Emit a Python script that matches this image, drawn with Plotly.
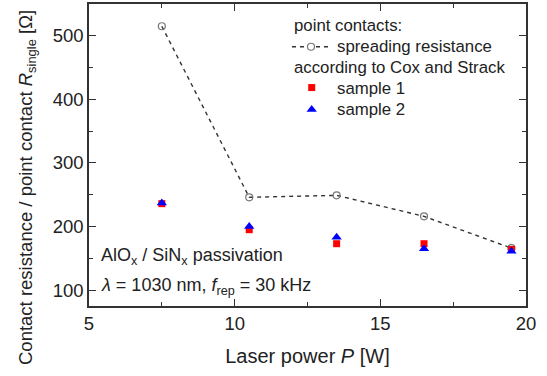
import plotly.graph_objects as go

power = [7.5, 10.5, 13.5, 16.5, 19.5]
spreading = [515, 246, 249, 216, 166]
sample1 = [236, 195, 173, 173, 164]
sample2 = [237, 200, 183, 165, 161]

FONT = "Arial, Liberation Sans, sans-serif"
TXT = "#222222"

fig = go.Figure()
fig.add_trace(go.Scatter(x=power, y=spreading, mode="lines+markers",
                         line=dict(color="#333333", width=1.4, dash="4px,4px"),
                         marker=dict(symbol="circle-open", size=7, color="#777777",
                                     line=dict(width=1.2, color="#777777")),
                         showlegend=False))
fig.add_trace(go.Scatter(x=power, y=sample1, mode="markers",
                         marker=dict(symbol="square", size=7, color="#ff0000"),
                         showlegend=False))
fig.add_trace(go.Scatter(x=power, y=sample2, mode="markers",
                         marker=dict(symbol="triangle-up", size=9, color="#0000ff"),
                         showlegend=False))

# legend glyphs on an overlay axis (0..1 domain)
fig.add_trace(go.Scatter(x=[0.4645, 0.5515], y=[0.8584, 0.8584], mode="lines",
                         line=dict(color="#333333", width=1.4, dash="4px,4px"),
                         xaxis="x2", yaxis="y2", showlegend=False))
fig.add_trace(go.Scatter(x=[0.508], y=[0.8584], mode="markers",
                         marker=dict(symbol="circle", size=7, color="white",
                                     line=dict(width=1.2, color="#777777")),
                         xaxis="x2", yaxis="y2", showlegend=False))
fig.add_trace(go.Scatter(x=[0.5096], y=[0.7233], mode="markers",
                         marker=dict(symbol="square", size=7, color="#ff0000"),
                         xaxis="x2", yaxis="y2", showlegend=False))
fig.add_trace(go.Scatter(x=[0.5096], y=[0.651], mode="markers",
                         marker=dict(symbol="triangle-up", size=9, color="#0000ff"),
                         xaxis="x2", yaxis="y2", showlegend=False))

axis_common = dict(showline=True, linecolor="#333333", linewidth=1.5, mirror="ticks",
                   ticks="inside", ticklen=7, tickwidth=1.2, tickcolor="#333333",
                   showgrid=False, zeroline=False,
                   tickfont=dict(family=FONT, size=18.5, color=TXT))

fig.update_layout(
    width=547, height=376,
    margin=dict(l=89, r=21, t=2, b=70),
    paper_bgcolor="white", plot_bgcolor="white",
    font=dict(family=FONT, color=TXT),
    xaxis=dict(range=[5, 20], dtick=5, tick0=5,
               minor=dict(dtick=2.5, ticklen=4, tickcolor="#333333", ticks="inside"),
               title=dict(text="Laser power <i>P</i> [W]", font=dict(size=20), standoff=16),
               **axis_common),
    yaxis=dict(range=[75, 550], dtick=100, tick0=100,
               minor=dict(dtick=50, ticklen=4, tickcolor="#333333", ticks="inside"),
               **axis_common),
    xaxis2=dict(range=[0, 1], overlaying="x", visible=False, fixedrange=True),
    yaxis2=dict(range=[0, 1], overlaying="y", visible=False, fixedrange=True),
)

def ann(text, x, y, size, angle=0, xanchor="left"):
    fig.add_annotation(text=text, x=x, y=y, xref="paper", yref="paper",
                       xanchor=xanchor, yanchor="middle", showarrow=False,
                       textangle=angle,
                       font=dict(family=FONT, size=size, color=TXT))

ann("Contact resistance / point contact <i>R</i><sub>single</sub> [Ω]",
    -0.1419, 0.394, 18.5, angle=-90, xanchor="center")
ann("point contacts:", 0.4645, 0.9275, 16.8)
ann("spreading resistance", 0.563, 0.8584, 16.8)
ann("according to Cox and Strack", 0.4645, 0.790, 16.8)
ann("sample 1", 0.563, 0.72, 16.8)
ann("sample 2", 0.563, 0.651, 16.8)
ann("AlO<sub>x</sub> / SiN<sub>x</sub> passivation", 0.0229, 0.165, 18)
ann("<i>λ</i> = 1030 nm, <i>f</i><sub>rep</sub> = 30 kHz", 0.0229, 0.066, 18)

fig.write_html("out.html")
